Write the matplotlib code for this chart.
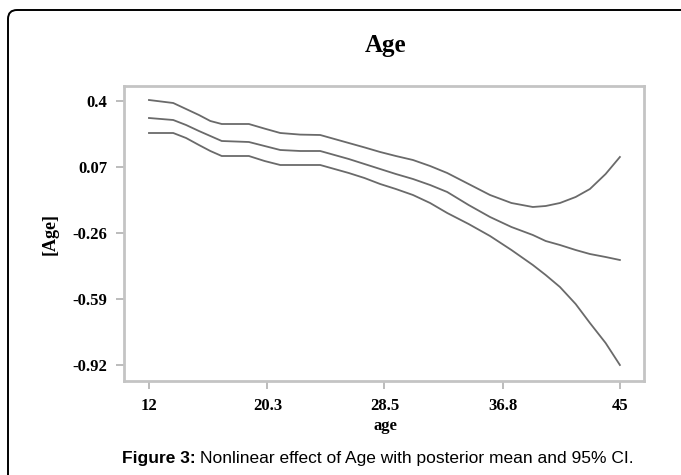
import matplotlib
matplotlib.use("Agg")
import matplotlib.pyplot as plt
from matplotlib.patches import FancyBboxPatch

age = [12, 13.7, 14.6, 15.5, 16.3, 17.1, 19.0, 20.1, 21.2, 22.6, 24.0, 25.0, 26.0, 27.1, 28.2,
       29.3, 30.5, 31.7, 32.9, 34.4, 35.9, 37.4, 38.9, 39.8, 40.8, 41.9, 42.9, 44.0, 45]
upper = [0.405, 0.39, 0.36, 0.33, 0.30, 0.285, 0.285, 0.262, 0.24, 0.232, 0.23, 0.21, 0.19, 0.168, 0.145,
         0.125, 0.105, 0.075, 0.04, -0.015, -0.07, -0.11, -0.13, -0.125, -0.11, -0.08, -0.04, 0.035, 0.12]
mean = [0.315, 0.305, 0.28, 0.25, 0.225, 0.20, 0.195, 0.175, 0.155, 0.15, 0.15, 0.13, 0.11, 0.085, 0.06,
        0.035, 0.01, -0.02, -0.055, -0.12, -0.18, -0.23, -0.27, -0.30, -0.32, -0.345, -0.365, -0.38, -0.395]
lower = [0.24, 0.24, 0.215, 0.18, 0.15, 0.125, 0.125, 0.10, 0.08, 0.08, 0.08, 0.06, 0.04, 0.015, -0.015,
         -0.04, -0.07, -0.11, -0.16, -0.215, -0.275, -0.345, -0.42, -0.47, -0.53, -0.615, -0.71, -0.81, -0.92]

xticks = [12, 20.3, 28.5, 36.8, 45]
xticklabels = ["12", "20.3", "28.5", "36.8", "45"]
yticks = [0.4, 0.07, -0.26, -0.59, -0.92]
yticklabels = ["0.4", "0.07", "-0.26", "-0.59", "-0.92"]

W, H = 681, 475
fig = plt.figure(figsize=(W / 100, H / 100), dpi=100)
fig.patch.set_facecolor("white")

# outer frame (rounded, extends beyond the right/bottom edges)
frame = FancyBboxPatch((8, -30), 720, H - 10 + 30,
                       boxstyle="round,pad=0,rounding_size=9",
                       transform=None, fill=False, edgecolor="black", linewidth=1.4)
fig.patches.append(frame)

ax = fig.add_axes([124 / W, 1 - 381 / H, (644 - 124) / W, (381 - 86) / H])
lc = "#6a6a6a"
for s in (upper, mean, lower):
    ax.plot(age, s, color=lc, linewidth=1.3, solid_joinstyle="round")

ax.set_xlim(10.25, 46.69)
ax.set_ylim(-1.0, 0.475)
serif = ["Liberation Serif", "DejaVu Serif"]
ax.set_xticks(xticks)
ax.set_xticklabels(xticklabels, fontfamily=serif, fontweight="bold", fontsize=12)
ax.set_yticks(yticks)
ax.set_yticklabels(yticklabels, fontfamily=serif, fontweight="bold", fontsize=12)
for sp in ax.spines.values():
    sp.set_color("#c4c4c4")
    sp.set_linewidth(2)
ax.tick_params(axis="both", colors="#b0b0b0", length=6, width=1.2, labelcolor="black")
ax.tick_params(axis="y", pad=6)
ax.tick_params(axis="x", pad=6)

fig.text(386 / W, 1 - 52 / H, "Age", ha="center", va="baseline",
         fontfamily=serif, fontweight="bold", fontsize=18)
fig.text(385 / W, 1 - 426 / H, "age", ha="center", va="center",
         fontfamily=serif, fontweight="bold", fontsize=12)
fig.text(50 / W, 1 - 234 / H, "[Age]", ha="center", va="center", rotation=90,
         fontfamily=serif, fontweight="bold", fontsize=13)

# caption: bold prefix then regular text, centred as a whole
sans = ["Liberation Sans", "DejaVu Sans"]
cap_y = 1 - 458 / H
fs_cap = 12.5
t1 = fig.text(0, cap_y, "Figure 3:", ha="left", va="center",
              fontfamily=sans, fontweight="bold", fontsize=fs_cap)
t2 = fig.text(0, cap_y, "Nonlinear effect of Age with posterior mean and 95% CI.",
              ha="left", va="center", fontfamily=sans, fontsize=fs_cap)
fig.canvas.draw()
w1 = t1.get_window_extent().width
w2 = t2.get_window_extent().width
gap = 4
x0 = 378 - (w1 + gap + w2) / 2
t1.set_x(x0 / W)
t2.set_x((x0 + w1 + gap) / W)

fig.savefig("out.png", dpi=100, facecolor="white")
